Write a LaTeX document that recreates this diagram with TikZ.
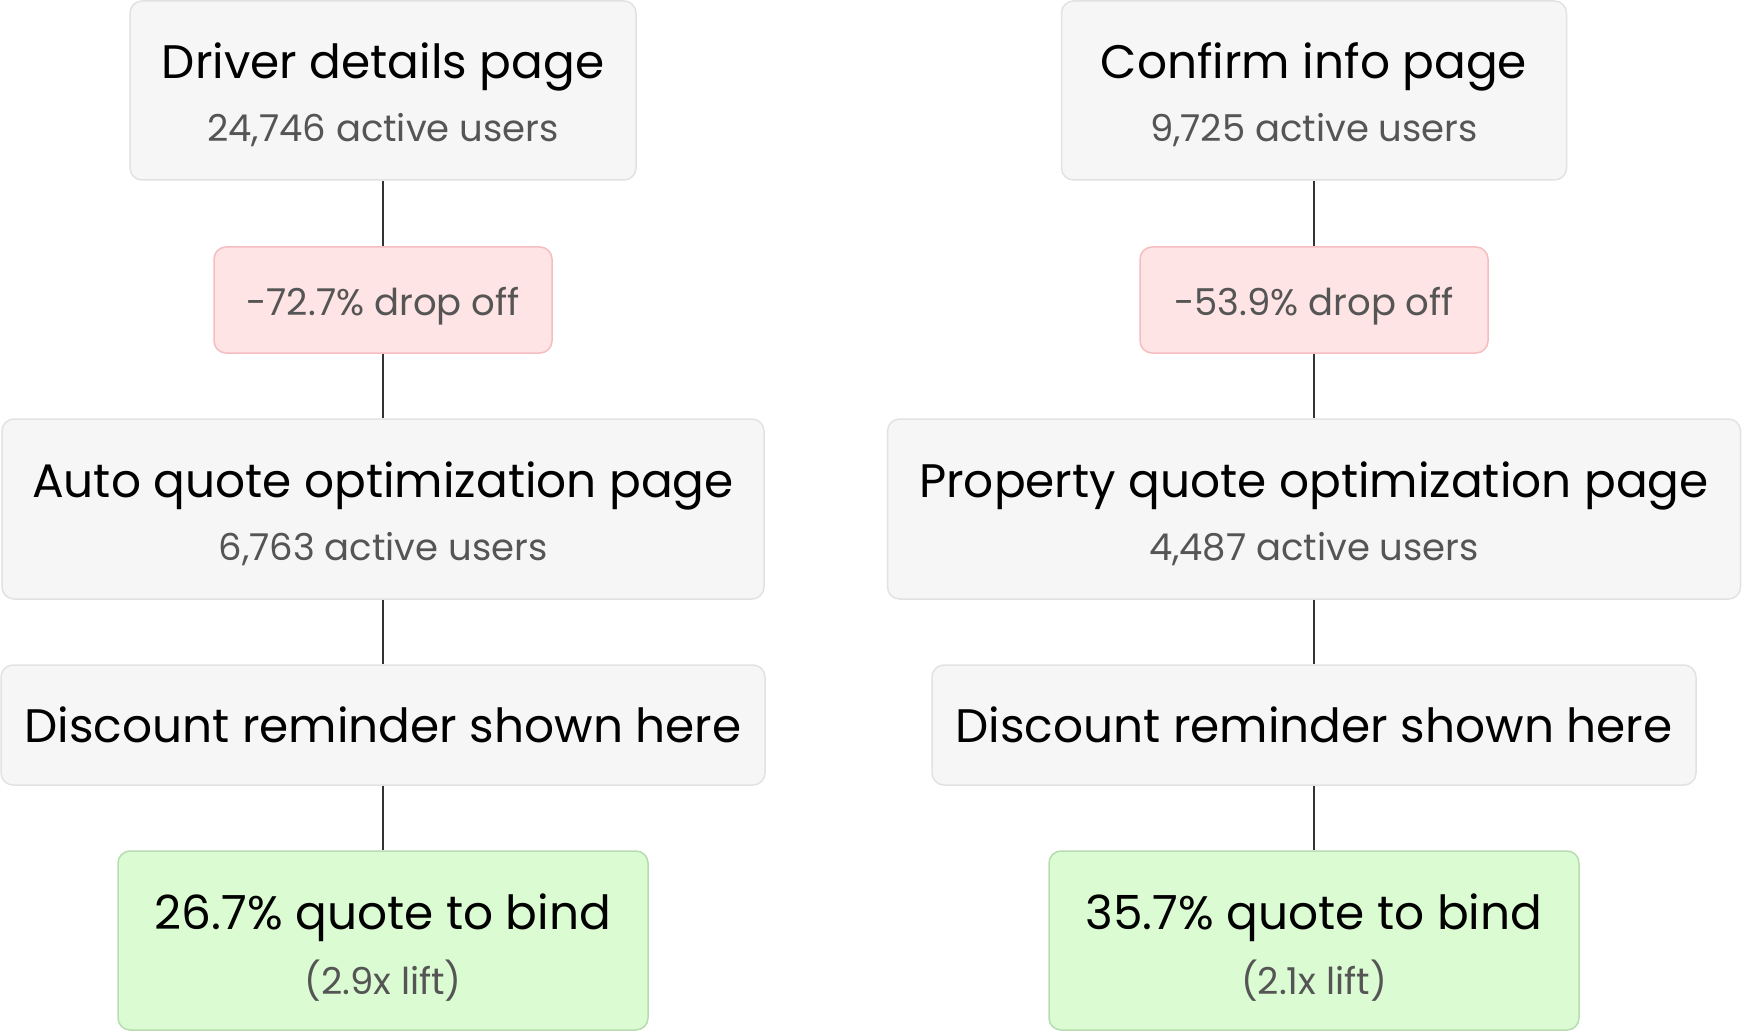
\documentclass[tikz,border=0pt]{standalone}
\usepackage{fontspec}
\setmainfont{Poppins}
\usetikzlibrary{positioning}

\definecolor{pagefill}{HTML}{F6F6F6}
\definecolor{pageline}{HTML}{E2E2E2}
\definecolor{dropfill}{HTML}{FFE4E5}
\definecolor{dropline}{HTML}{F4BDC0}
\definecolor{winfill}{HTML}{DBFBD3}
\definecolor{winline}{HTML}{B7DCAF}
\definecolor{subgray}{HTML}{555555}
\definecolor{linkgray}{HTML}{333333}

\tikzset{
  page/.style={draw=pageline, fill=pagefill, rounded corners=12pt, line width=1.5pt, inner sep=0pt},
  drop/.style={draw=dropline, fill=dropfill, rounded corners=12pt, line width=1.5pt, inner sep=0pt},
  win/.style={draw=winline, fill=winfill, rounded corners=12pt, line width=1.5pt, inner sep=0pt},
  big/.style={anchor=base, inner sep=0pt, font=\fontsize{47}{52}\selectfont},
  small/.style={anchor=base, inner sep=0pt, text=subgray, font=\fontsize{37}{42}\selectfont},
  link/.style={draw=linkgray, line width=1.5pt}
}

\begin{document}
\begin{tikzpicture}[x=1pt,y=-1pt]
\useasboundingbox (0,0) rectangle (1742,1032);

% left funnel
\node[page, minimum width=506pt, minimum height=179pt] (driver) at (383,90.5) {};
\node[big] (driverT) at (383,79) {Driver details page};
\node[small] (driverS) at (383,142) {24,746 active users};
\node[drop, minimum width=338pt, minimum height=106pt] (dropL) at (383,300) {};
\node[small] (dropLT) at (383,315) {-72.7\% drop off};
\node[page, minimum width=762pt, minimum height=180pt] (auto) at (383,509) {};
\node[big] (autoT) at (383,497) {Auto quote optimization page};
\node[small] (autoS) at (383,560) {6,763 active users};
\node[page, minimum width=764pt, minimum height=120pt] (remL) at (383,725) {};
\node[big] (remLT) at (383,742) {Discount reminder shown here};
\node[win, minimum width=530pt, minimum height=179pt] (bindL) at (383,940.5) {};
\node[big] (bindLT) at (383,929) {26.7\% quote to bind};
\node[small] (bindLS) at (383,994) {(2.9x lift)};

% right funnel
\node[page, minimum width=505pt, minimum height=179pt] (confirm) at (1314,90.5) {};
\node[big] (confirmT) at (1314,79) {Confirm info page};
\node[small] (confirmS) at (1314,142) {9,725 active users};
\node[drop, minimum width=348pt, minimum height=106pt] (dropR) at (1314,300) {};
\node[small] (dropRT) at (1314,315) {-53.9\% drop off};
\node[page, minimum width=853pt, minimum height=180pt] (property) at (1314,509) {};
\node[big] (propertyT) at (1314,497) {Property quote optimization page};
\node[small] (propertyS) at (1314,560) {4,487 active users};
\node[page, minimum width=764pt, minimum height=120pt] (remR) at (1314,725) {};
\node[big] (remRT) at (1314,742) {Discount reminder shown here};
\node[win, minimum width=530pt, minimum height=179pt] (bindR) at (1314,940.5) {};
\node[big] (bindRT) at (1314,929) {35.7\% quote to bind};
\node[small] (bindRS) at (1314,994) {(2.1x lift)};

% connectors
\draw[link] (driver) -- (dropL);
\draw[link] (dropL) -- (auto);
\draw[link] (auto) -- (remL);
\draw[link] (remL) -- (bindL);
\draw[link] (confirm) -- (dropR);
\draw[link] (dropR) -- (property);
\draw[link] (property) -- (remR);
\draw[link] (remR) -- (bindR);
\end{tikzpicture}
\end{document}
